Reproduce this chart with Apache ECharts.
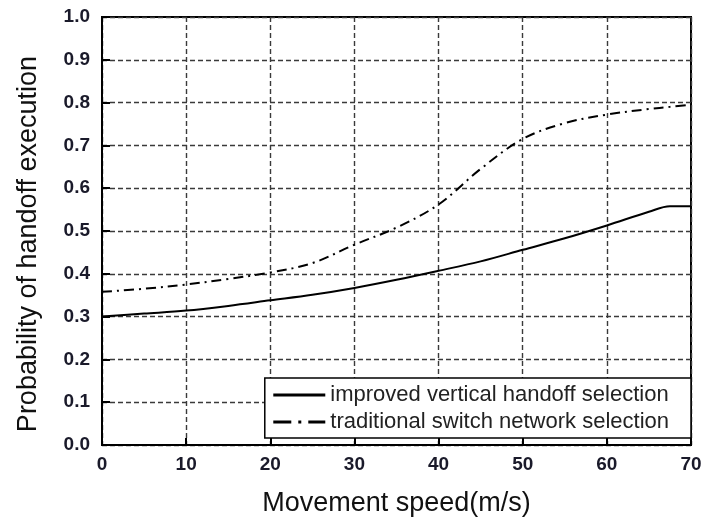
<!DOCTYPE html>
<html>
<head>
<meta charset="utf-8">
<script src="https://cdn.jsdelivr.net/npm/echarts@6/dist/echarts.min.js"></script>
<style>
  html, body { margin: 0; padding: 0; background: #fff; }
  #chart { width: 707px; height: 520px; }
</style>
</head>
<body>
<div id="chart"></div>
<script>
// Snelheden (m/s) en kansen.
const speeds = [0, 5, 10, 15, 20, 25, 30, 35, 40, 45, 50, 55, 60, 65, 67.5, 70];
const improved = [0.300, 0.307, 0.314, 0.325, 0.338, 0.351, 0.367, 0.386, 0.407, 0.429, 0.456, 0.483, 0.513, 0.545, 0.558, 0.558];
const traditional = [0.358, 0.365, 0.375, 0.388, 0.403, 0.425, 0.468, 0.508, 0.562, 0.645, 0.715, 0.752, 0.772, 0.785, 0.790, 0.795];
const seriesNames = ['improved vertical handoff selection', 'traditional switch network selection'];

const font = '"Liberation Sans", Arial, sans-serif';
const gridDash = { color: '#3a3a3a', width: 1.4, type: [5, 3] };

let chart = echarts.init(document.getElementById('chart'));

let option = {
    animation: false,
    textStyle: { fontFamily: font },
    grid: {
        left: 102, right: 16, top: 17, bottom: 75,
        outerBoundsMode: 'none',
        show: true, borderColor: '#000', borderWidth: 2
    },
    xAxis: {
        type: 'value',
        min: 0, max: 70, interval: 10,
        name: 'Movement speed(m/s)',
        nameLocation: 'middle',
        nameGap: 45,
        nameTextStyle: { fontSize: 27, color: '#111', fontFamily: font },
        axisLine: { lineStyle: { color: '#000', width: 2 } },
        axisTick: { inside: true, length: 7, lineStyle: { color: '#000', width: 2 } },
        axisLabel: { fontSize: 19, fontWeight: 'bold', color: '#1a1a2a', margin: 10, fontFamily: font },
        splitLine: { show: true, lineStyle: gridDash }
    },
    yAxis: {
        type: 'value',
        min: 0, max: 1, interval: 0.1,
        name: 'Probability of handoff execution',
        nameLocation: 'middle',
        nameGap: 60,
        nameTextStyle: { fontSize: 27, color: '#111', fontFamily: font, padding: [0, 26, 0, 0] },
        axisLine: { show: true, lineStyle: { color: '#000', width: 2 } },
        axisTick: { show: true, inside: true, length: 8, lineStyle: { color: '#000', width: 2 } },
        axisLabel: {
            fontSize: 19, fontWeight: 'bold', color: '#1a1a2a', margin: 12, fontFamily: font,
            formatter: v => v.toFixed(1)
        },
        splitLine: { show: true, lineStyle: gridDash }
    },
    legend: {
        orient: 'vertical',
        right: 16, top: 378,
        backgroundColor: '#fff',
        borderColor: '#000', borderWidth: 1.5, borderRadius: 0,
        padding: [6, 22, 5, 7],
        itemWidth: 52, itemHeight: 14, itemGap: 5,
        textStyle: { fontSize: 22, color: '#222', fontFamily: font },
        data: [
            { name: seriesNames[0], itemStyle: { opacity: 0 }, lineStyle: { width: 3, type: 'solid' } },
            { name: seriesNames[1], itemStyle: { opacity: 0 }, lineStyle: { width: 3, type: [18, 7, 3, 7] } }
        ]
    },
    series: [
        {
            name: seriesNames[0],
            type: 'line',
            symbol: 'none',
            smooth: 0.35,
            lineStyle: { color: '#000', width: 2 },
            itemStyle: { color: '#000' },
            data: speeds.map((s, i) => [s, improved[i]])
        },
        {
            name: seriesNames[1],
            type: 'line',
            symbol: 'none',
            smooth: 0.35,
            lineStyle: { color: '#000', width: 2, type: [10, 5, 2, 5] },
            itemStyle: { color: '#000' },
            data: speeds.map((s, i) => [s, traditional[i]])
        }
    ]
};

chart.setOption(option);
window.onresize = () => chart.resize();
</script>
</body>
</html>
